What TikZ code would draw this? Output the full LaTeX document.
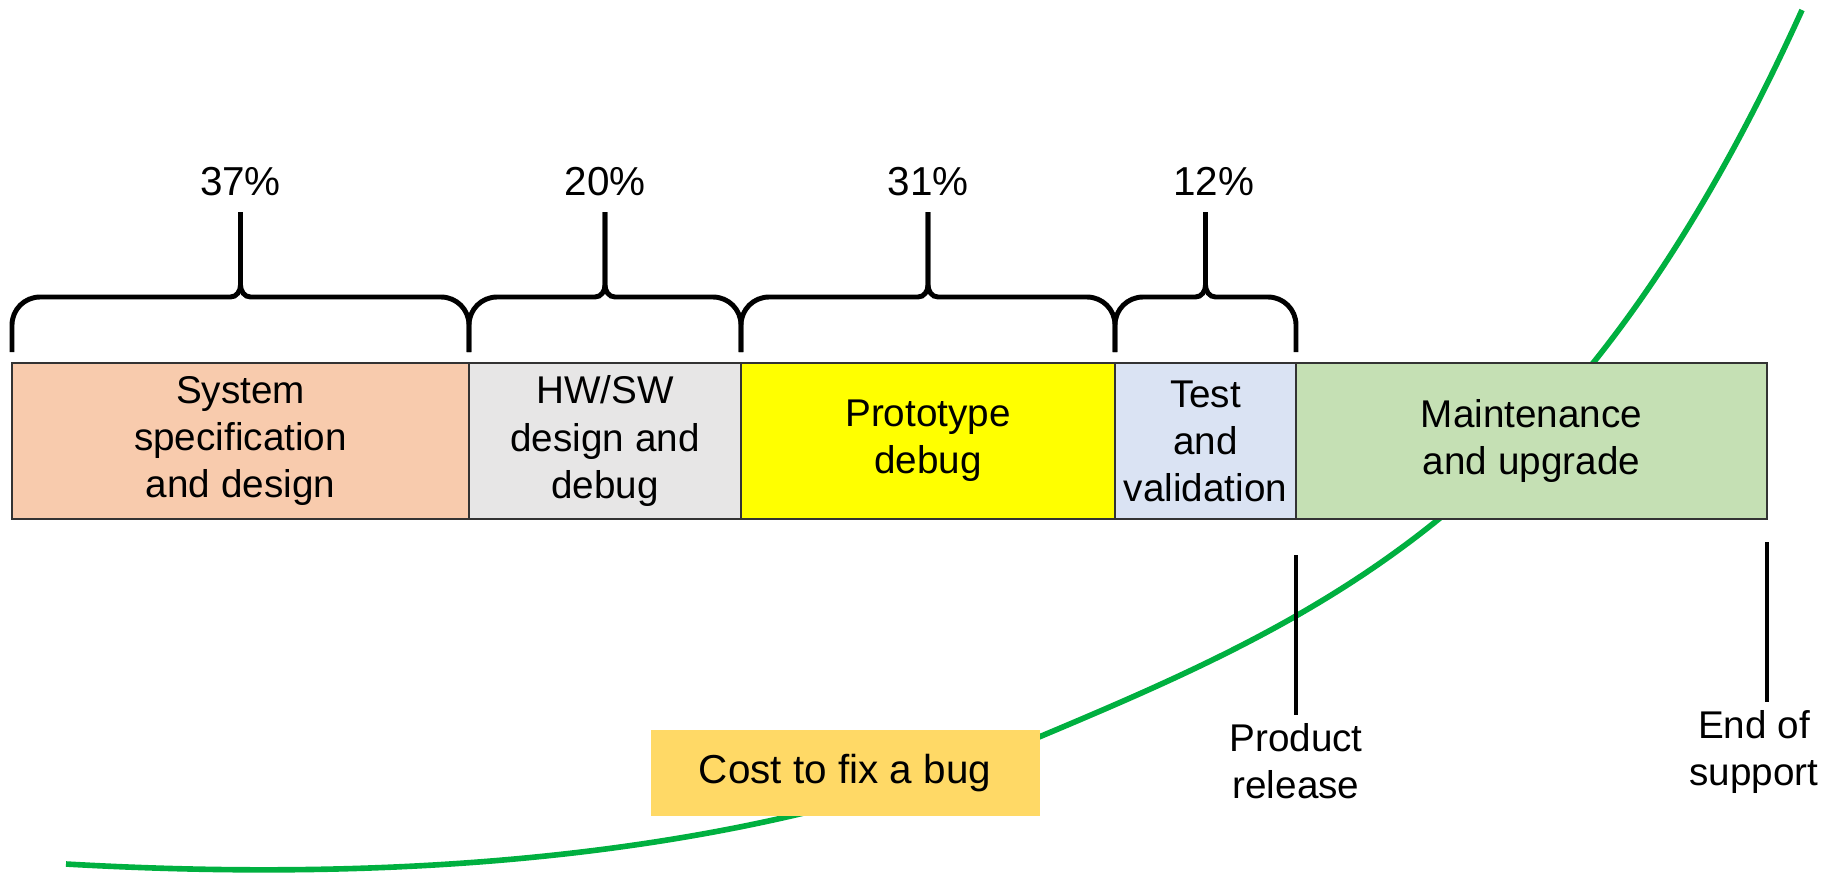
\documentclass[tikz,border=0pt]{standalone}
\usepackage{fontspec}
\setmainfont{Liberation Sans}
\usetikzlibrary{calc, positioning}
\definecolor{specpeach}{HTML}{F8CBAD}
\definecolor{hwgray}{HTML}{E7E6E6}
\definecolor{protoyellow}{HTML}{FFFF00}
\definecolor{testblue}{HTML}{DAE3F3}
\definecolor{maintgreen}{HTML}{C5E0B4}
\definecolor{costgold}{HTML}{FFD966}
\definecolor{curvegreen}{RGB}{0,176,64}
\def\bh{1.56cm}
\def\tk{1.6cm}
\tikzset{
    phase/.style = {
        draw=black!80, line width=0.8pt, minimum height=\bh, inner sep=0pt, outer sep=0pt,
        align=center, font=\fontsize{11}{13.4}\selectfont
    },
    share/.style = {font=\fontsize{11.5}{13}\selectfont, inner sep=1pt},
    bracket/.style = {line width=1.4pt},
    milestone/.style = {line width=1.4pt},
    Brace/.pic = {
        \draw[bracket] (-#1, -0.55) -- (-#1, -0.28) to[out=90, in=180] (-#1+0.28, 0)
            -- (-0.1, 0) to[out=0, in=-90] (0, 0.12) -- (0, 0.85);
        \draw[bracket] (#1, -0.55) -- (#1, -0.28) to[out=90, in=0] (#1-0.28, 0)
            -- (0.1, 0) to[out=180, in=-90] (0, 0.12) -- (0, 0.85);
        \coordinate (-tip) at (0, 0.85);
    },
}

\begin{document}
\begin{tikzpicture}
        \useasboundingbox (0,0) rectangle (18.36,-8.88);

        % Cost curve (behind everything)
        \draw[curvegreen, line width=1.6pt] (0.66,-8.64)
            .. controls (4.16,-8.84) and (7.6,-8.55) .. (10.39,-7.37)
            .. controls (13.39,-6.11) and (15.8,-5.0) .. (18.02,-0.10);

        % Place the blocks
        \node[phase, fill=specpeach, minimum width=4.57cm, anchor=west] (sys) at (0.12,-4.41)
            {System\\specification\\and design};
        \node[phase, fill=hwgray, minimum width=2.72cm, right=0pt of sys] (hwsw)
            {HW/SW\\design and\\debug};
        \node[phase, fill=protoyellow, minimum width=3.74cm, right=0pt of hwsw] (proto)
            {Prototype\\debug};
        \node[phase, fill=testblue, minimum width=1.81cm, right=0pt of proto] (test)
            {Test\\and\\validation};
        \node[phase, fill=maintgreen, minimum width=4.71cm, right=0pt of test] (maint)
            {Maintenance\\and upgrade};

        % Braces and shares
        \pic (b1) at ([yshift=0.66cm]sys.north) {Brace=2.285};
        \pic (b2) at ([yshift=0.66cm]hwsw.north) {Brace=1.36};
        \pic (b3) at ([yshift=0.66cm]proto.north) {Brace=1.87};
        \pic (b4) at ([yshift=0.66cm]test.north) {Brace=0.905};
        \node[share, above=0.12cm of b1-tip] (p1) {37\%};
        \node[share, above=0.12cm of b2-tip] (p2) {20\%};
        \node[share, above=0.12cm of b3-tip] (p3) {31\%};
        \node[share, above=0.12cm of b4-tip, xshift=0.08cm] (p4) {12\%};

        % Milestones
        \draw[milestone] ([yshift=-0.36cm]test.south east) -- ++(0,-\tk) coordinate (rel);
        \draw[milestone] ([yshift=-0.23cm]maint.south east) -- ++(0,-\tk) coordinate (eos);
        \node[phase, draw=none, minimum height=0pt, below=0.08cm of rel] (reltxt) {Product\\release};
        \node[phase, draw=none, minimum height=0pt, below=0.08cm of eos, xshift=-0.13cm] (eostxt) {End of\\support};

        % Curve label
        \node[fill=costgold, minimum width=3.89cm, minimum height=0.86cm,
            font=\fontsize{11.5}{13}\selectfont] (cost) at (8.45,-7.73) {Cost to fix a bug};
    \end{tikzpicture}
\end{document}
